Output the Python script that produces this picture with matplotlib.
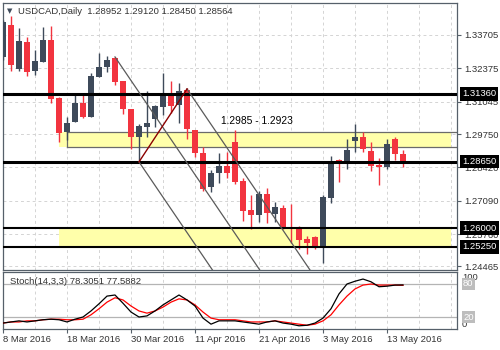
import matplotlib
matplotlib.use('Agg')
import matplotlib.pyplot as plt
import matplotlib.transforms as mtransforms
import numpy as np

plt.rcParams['font.family'] = ['Liberation Sans', 'DejaVu Sans']

# ---------------- data ----------------
header_text = 'USDCAD,Daily  1.28952 1.29120 1.28450 1.28564'
stoch_text = 'Stoch(14,3,3) 78.3051 77.5882'
date_labels = ['8 Mar 2016', '18 Mar 2016', '30 Mar 2016', '11 Apr 2016',
               '21 Apr 2016', '3 May 2016', '13 May 2016']
date_pos = [0, 8, 16, 24, 32, 40, 48]

opens = [1.3283, 1.3410, 1.3235, 1.3343, 1.3227, 1.3263, 1.3351, 1.3119, 1.2983, 1.3023,
         1.3099, 1.3043, 1.3203, 1.3243, 1.3279, 1.3187, 1.3075, 1.2963, 1.3003, 1.3035,
         1.3083, 1.3139, 1.3091, 1.3151, 1.2991, 1.2900, 1.2764, 1.2820, 1.2848, 1.2943,
         1.2788, 1.2672, 1.2652, 1.2736, 1.2656, 1.2680, 1.2604, 1.2604, 1.2556, 1.2564,
         1.2524, 1.2720, 1.2872, 1.2856, 1.2947, 1.2963, 1.2908, 1.2852, 1.2844, 1.2955,
         1.28952]
highs = [1.3430, 1.3446, 1.3398, 1.3363, 1.3311, 1.3402, 1.3406, 1.3123, 1.3043, 1.3139,
         1.3139, 1.3219, 1.3299, 1.3287, 1.3283, 1.3187, 1.3075, 1.3015, 1.3147, 1.3091,
         1.3219, 1.3187, 1.3179, 1.3159, 1.2991, 1.2923, 1.2832, 1.2900, 1.2904, 1.2991,
         1.2800, 1.2732, 1.2748, 1.2760, 1.2704, 1.2692, 1.2696, 1.2608, 1.2568, 1.2568,
         1.2732, 1.2888, 1.2876, 1.2955, 1.3015, 1.2983, 1.2943, 1.2880, 1.2955, 1.2963,
         1.29120]
lows = [1.3271, 1.3227, 1.3227, 1.3207, 1.3211, 1.3263, 1.3099, 1.2943, 1.2951, 1.3023,
        1.3039, 1.3043, 1.3203, 1.3223, 1.3171, 1.3055, 1.2915, 1.2864, 1.2963, 1.3003,
        1.3051, 1.3059, 1.3019, 1.2955, 1.2884, 1.2748, 1.2744, 1.2780, 1.2800, 1.2776,
        1.2628, 1.2596, 1.2624, 1.2620, 1.2624, 1.2596, 1.2540, 1.2516, 1.2497, 1.2516,
        1.2461, 1.2700, 1.2784, 1.2836, 1.2904, 1.2904, 1.2828, 1.2772, 1.2836, 1.2872,
        1.28450]
closes = [1.3422, 1.3251, 1.3347, 1.3223, 1.3267, 1.3351, 1.3115, 1.2979, 1.3019, 1.3099,
          1.3043, 1.3207, 1.3243, 1.3271, 1.3183, 1.3075, 1.2963, 1.3007, 1.3019, 1.3087,
          1.3139, 1.3087, 1.3147, 1.2995, 1.2900, 1.2756, 1.2820, 1.2848, 1.2820, 1.2784,
          1.2668, 1.2652, 1.2736, 1.2660, 1.2684, 1.2600, 1.2596, 1.2552, 1.2540, 1.2528,
          1.2724, 1.2868, 1.2856, 1.2912, 1.2963, 1.2915, 1.2848, 1.2844, 1.2935, 1.2896,
          1.28564]

stoch_k = [9, 11, 13, 11, 13, 15, 16, 15, 11, 16, 20, 31, 44, 58, 60, 45, 29, 20, 22, 31,
           42, 51, 60, 51, 40, 18, 7, 13, 13, 13, 11, 9, 7, 11, 13, 9, 7, 4, 5, 9,
           18, 35, 62, 80, 85, 89, 84, 75, 76, 78, 78.3051]
stoch_d = [9, 11, 11, 13, 13, 15, 16, 16, 15, 15, 16, 24, 35, 47, 55, 51, 40, 31, 27, 31,
           38, 47, 53, 51, 42, 29, 18, 15, 15, 15, 13, 11, 11, 11, 13, 11, 9, 7, 5, 7,
           13, 24, 42, 58, 71, 78, 80, 78, 78, 78, 77.5882]

price_ticks = [1.33705, 1.32375, 1.31045, 1.29750, 1.28420, 1.27090, 1.25760, 1.24465]
level_prices = [1.31360, 1.28650, 1.26000, 1.25250]
level_widths = [2.2, 2.2, 1.5, 1.5]
zone_upper = [1.2923, 1.2985]
zone_lower = [1.2525, 1.2600]
zone_start = 7
zone_end = 56
box_start = 8
zone_label = '1.2985 - 1.2923'
zone_label_pos = [27.2, 1.3027]
channel_x = [14, 17, 23]
channel_y = [1.3283, 1.2864, 1.3155]
channel_slope = -0.0047
pivot_x = [17, 23]
pivot_y = [1.2864, 1.3155]
stoch_levels = [20, 80]

# ---------------- style ----------------
W, H = 500, 350
RED = '#f2343f'
DARK = '#3e4a5a'
FRAME = '#56606a'
GRID = '#d4d4d4'
TXT = '#333333'
FS = 6.8

fig = plt.figure(figsize=(W / 100, H / 100), dpi=100)
fig.patch.set_facecolor('white')


def px_rect(l, t, r, b):
    return [l / W, 1 - b / H, (r - l) / W, (b - t) / H]


ax = fig.add_axes(px_rect(3, 3, 457, 270))
ax2 = fig.add_axes(px_rect(3, 272, 457, 329))

xmax = (457 - 3) / 8
for a in (ax, ax2):
    a.set_xlim(0, xmax)
    for s in a.spines.values():
        s.set_color(FRAME)
        s.set_linewidth(0.9)
    for gx in np.arange(0, xmax, 4):
        a.axvline(gx, color=GRID, lw=0.7, dashes=(3, 3), zorder=0)

ax.set_ylim(1.243238, 1.349824)
ax2.set_ylim(-1.8, 101.8)

# horizontal grid
for p in price_ticks:
    ax.axhline(p, color=GRID, lw=0.7, dashes=(3, 3), zorder=0)

# zones
ax.fill_between([zone_start, zone_end], zone_upper[0], zone_upper[1],
                color='#ffffaa', lw=0, zorder=1)
ax.fill_between([zone_start, zone_end], zone_lower[0], zone_lower[1],
                color='#ffffaa', lw=0, zorder=1)
for p in zone_upper:
    ax.plot([box_start, xmax], [p, p], color='#6a6a6a', lw=0.9, zorder=2)
ax.plot([box_start, box_start], zone_upper, color='#6a6a6a', lw=0.9, zorder=2)
ax.text(zone_label_pos[0], zone_label_pos[1], zone_label, fontsize=FS + 0.6,
        color='black', va='center', ha='left', zorder=6)

# candles
o = np.array(opens); h = np.array(highs); l = np.array(lows); c = np.array(closes)
idx = np.arange(len(o))
cols = [DARK if cc >= oo else RED for oo, cc in zip(o, c)]
ax.vlines(idx, l, h, colors=cols, lw=1.0, zorder=3)
body_lo = np.minimum(o, c)
body_h = np.maximum(np.abs(c - o), 0.0004)
ax.bar(idx, body_h, bottom=body_lo, width=0.68, color=cols, lw=0, zorder=3)

# level lines
for p, w in zip(level_prices, level_widths):
    ax.axhline(p, color='black', lw=w, zorder=4)

# channel lines
for cx, cy in zip(channel_x, channel_y):
    xs = np.array([cx, cx + 40])
    ax.plot(xs, cy + channel_slope * (xs - cx), color='#5a5a5a', lw=0.9, zorder=4)
ax.plot(pivot_x, pivot_y, color='#8b0000', lw=1.0, zorder=4)

# y axis right
ax.yaxis.tick_right()
ax.set_yticks(price_ticks)
ax.set_yticklabels(['%.5f' % p for p in price_ticks])
ax.tick_params(axis='y', direction='out', length=3, width=0.8, color=FRAME,
               labelsize=FS, labelcolor=TXT, pad=2)
ax.set_xticks([])

# level labels
ytr = ax.get_yaxis_transform()
for p in level_prices:
    ax.text(1.0 + 5 / 454, p, '%.5f' % p, transform=ytr, fontsize=FS, color='white',
            va='center', ha='left', clip_on=False, zorder=10,
            bbox=dict(facecolor='black', edgecolor='none', pad=1.6))

# header
fig.text(10 / W, 1 - 11 / H, '\u25bc', fontsize=5, color='#3e4a5a',
         ha='center', va='center', family='DejaVu Sans')
fig.text(18 / W, 1 - 11 / H, header_text, fontsize=FS, color=TXT, ha='left', va='center')

# stochastic
ax2.plot(idx, stoch_d, color='#ff0000', lw=0.9, zorder=3)
ax2.plot(idx, stoch_k, color='black', lw=0.9, zorder=4)
for lv in stoch_levels:
    ax2.axhline(lv, color='#b4b4b4', lw=0.9, zorder=1)
ax2.set_yticks([])
ax2.text(7 / 454, 1 - 9 / 57, stoch_text, transform=ax2.transAxes, fontsize=FS,
         color=TXT, ha='left', va='center')
ytr2 = ax2.get_yaxis_transform()
ax2.text(1.0 + 5 / 454, 100, '100', transform=ytr2, fontsize=FS, color=TXT,
         ha='left', va='top', clip_on=False)
ax2.text(1.0 + 5 / 454, -1, '0', transform=ytr2, fontsize=FS, color=TXT,
         ha='left', va='bottom', clip_on=False)
for lv in stoch_levels:
    ax2.text(1.0 + 6 / 454, lv, str(lv), transform=ytr2, fontsize=FS, color='white',
             ha='left', va='center', clip_on=False, zorder=10,
             bbox=dict(facecolor='#bdbdbd', edgecolor='none', pad=0.8))

ax2.set_xticks(date_pos)
ax2.set_xticklabels(date_labels)
for lab in ax2.get_xticklabels():
    lab.set_ha('left')
ax2.tick_params(axis='x', direction='out', length=3, width=0.8, color=FRAME,
                labelsize=FS, labelcolor=TXT, pad=1.5)

fig.savefig('out.png', dpi=100)
